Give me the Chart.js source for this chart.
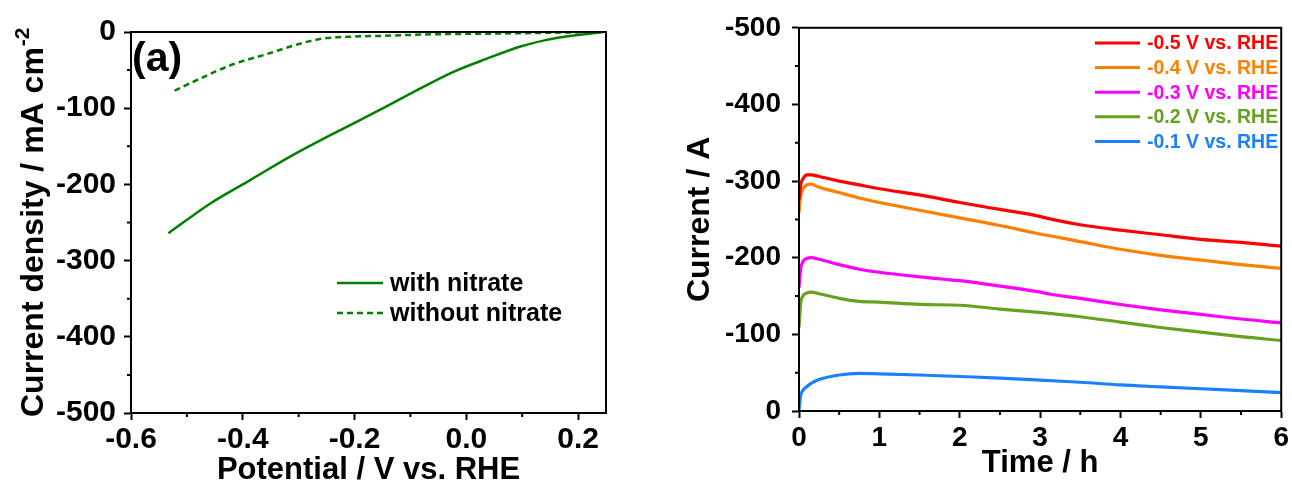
<!DOCTYPE html>
<html>
<head>
<meta charset="utf-8">
<script src="https://cdn.jsdelivr.net/npm/chart.js@4.4.1/dist/chart.umd.min.js"></script>
<style>
  html, body { margin: 0; padding: 0; background: #fff; }
  #wrap { position: relative; width: 1292px; height: 489px; overflow: hidden; }
  #ca { position: absolute; left: 0; top: 0; }
  #cb { position: absolute; left: 640px; top: 0; }
</style>
</head>
<body>
<div id="wrap">
  <canvas id="ca" width="640" height="489"></canvas>
  <canvas id="cb" width="652" height="489"></canvas>
</div>
<script>
// ---------- (a) linear sweep voltammetry ----------
const potentialWith    = [-0.533, -0.458, -0.386, -0.309, -0.237, -0.154, -0.082, -0.022, 0.037, 0.097, 0.140, 0.169, 0.200, 0.234, 0.245];
const currentWith      = [-264,   -225,   -194,   -161,   -133,   -102,   -74,    -52,    -35,   -19,   -11,   -7,    -4,    -1,    0];
const potentialWithout = [-0.522, -0.476, -0.416, -0.357, -0.310, -0.280, -0.250, -0.200, -0.148, -0.058, 0.061, 0.150, 0.245];
const currentWithout   = [-77,    -61,    -42,    -29,    -18,    -12,    -8,     -6,     -5,     -3,     -2,    -1,    0];
const seriesLabelsA    = ['with nitrate', 'without nitrate'];
const potentialTicks   = [-0.6, -0.4, -0.2, 0.0, 0.2];
const potentialMinor   = [-0.5, -0.3, -0.1, 0.1];
const densityTicks     = [0, -100, -200, -300, -400, -500];
const densityMinor     = [-50, -150, -250, -350, -450];

// ---------- (b) chronoamperometry ----------
const timeH   = [0, 0.02, 0.05, 0.1, 0.15, 0.25, 0.5, 0.75, 1, 1.5, 2, 2.5, 2.95, 3.15, 3.5, 4, 4.5, 5, 5.5, 6];
const iM05    = [-276, -295, -303, -308, -308, -306, -300, -295, -290, -282, -272, -263, -255, -250, -243, -236, -230, -224, -220, -215];
const iM04    = [-259, -280, -290, -295, -296, -292, -285, -278, -272, -262, -252, -242, -232, -228, -221, -211, -203, -197, -191, -186];
const iM03    = [-161, -185, -195, -199, -200, -198, -191, -185, -181, -175, -170, -163, -156, -152, -147, -139, -132, -126, -120, -115];
const iM02    = [-109, -140, -150, -154, -155, -153, -147, -143, -142, -139, -138, -133, -129, -127, -123, -116, -109, -103, -97,  -92];
const iM01    = [0,    -20,  -27,  -32,  -36,  -41,  -47,  -49,  -48.5, -47, -45, -43, -40.5, -39.5, -37.5, -34, -31.5, -29, -26.5, -24];
const seriesLabelsB = ['-0.5 V vs. RHE', '-0.4 V vs. RHE', '-0.3 V vs. RHE', '-0.2 V vs. RHE', '-0.1 V vs. RHE'];
const seriesColorsB = ['#ff0000', '#ff8000', '#ff00ff', '#66a122', '#1a80ff'];
const timeTicks    = [0, 1, 2, 3, 4, 5, 6];
const timeMinor    = [0.5, 1.5, 2.5, 3.5, 4.5, 5.5];
const currentTicks = [0, -100, -200, -300, -400, -500];
const currentMinor = [-50, -150, -250, -350, -450];

const FONT = "'Liberation Sans', Arial, Helvetica, sans-serif";
const toXY = (xs, ys) => xs.map((x, i) => ({ x: x, y: ys[i] }));

// full box around the plotting area
const frame = {
  id: 'frame',
  afterDatasetsDraw(chart) {
    const { ctx, chartArea: a } = chart;
    ctx.save();
    ctx.strokeStyle = '#000';
    ctx.lineWidth = 2;
    ctx.strokeRect(a.left, a.top, a.right - a.left, a.bottom - a.top);
    ctx.restore();
  }
};

// short outward minor ticks
function minorTicks(xVals, yVals) {
  return {
    id: 'minorTicks',
    afterDraw(chart) {
      const { ctx, chartArea: a, scales } = chart;
      ctx.save();
      ctx.strokeStyle = '#000';
      ctx.lineWidth = 2;
      ctx.beginPath();
      xVals.forEach(v => {
        const px = scales.x.getPixelForValue(v);
        ctx.moveTo(px, a.bottom); ctx.lineTo(px, a.bottom + 4);
      });
      yVals.forEach(v => {
        const py = scales.y.getPixelForValue(v);
        ctx.moveTo(a.left, py); ctx.lineTo(a.left - 4, py);
      });
      ctx.stroke();
      ctx.restore();
    }
  };
}

function panelLabel(text, x, y) {
  return {
    id: 'panelLabel',
    afterDraw(chart) {
      const ctx = chart.ctx;
      ctx.save();
      ctx.fillStyle = '#000';
      ctx.font = 'bold 41px ' + FONT;
      ctx.textBaseline = 'alphabetic';
      ctx.textAlign = 'left';
      ctx.fillText(text, x, y);
      ctx.restore();
    }
  };
}

// legend for (a): solid / dashed samples with black text
const legendA = {
  id: 'legendA',
  afterDraw(chart) {
    const ctx = chart.ctx;
    const rows = [283, 313];
    ctx.save();
    chart.data.datasets.forEach((ds, i) => {
      ctx.strokeStyle = ds.borderColor;
      ctx.lineWidth = ds.borderWidth;
      ctx.setLineDash(ds.borderDash || []);
      ctx.beginPath();
      ctx.moveTo(337, rows[i]); ctx.lineTo(383, rows[i]);
      ctx.stroke();
      ctx.setLineDash([]);
      ctx.fillStyle = '#000';
      ctx.font = 'bold 25px ' + FONT;
      ctx.textBaseline = 'middle';
      ctx.fillText(ds.label, 390, rows[i] + 1);
    });
    ctx.restore();
  }
};

// y title for (a) with superscript
const yTitleA = {
  id: 'yTitleA',
  afterDraw(chart) {
    const ctx = chart.ctx;
    ctx.save();
    ctx.translate(43, 417);
    ctx.rotate(-Math.PI / 2);
    ctx.fillStyle = '#000';
    ctx.textBaseline = 'alphabetic';
    ctx.textAlign = 'left';
    ctx.font = 'bold 32px ' + FONT;
    const main = 'Current density / mA cm';
    ctx.fillText(main, 0, 0);
    const w = ctx.measureText(main).width;
    ctx.font = 'bold 21px ' + FONT;
    ctx.fillText('-2', w + 1, -14);
    ctx.restore();
  }
};

// legend for (b): coloured samples with coloured text
const legendB = {
  id: 'legendB',
  afterDraw(chart) {
    const ctx = chart.ctx;
    const x0 = 1095 - 640, x1 = 1140 - 640, tx = 1147 - 640;
    ctx.save();
    chart.data.datasets.forEach((ds, i) => {
      const y = 43 + i * 24.6;
      ctx.strokeStyle = ds.borderColor;
      ctx.lineWidth = 3;
      ctx.beginPath();
      ctx.moveTo(x0, y); ctx.lineTo(x1, y);
      ctx.stroke();
      ctx.fillStyle = ds.borderColor;
      ctx.font = 'bold 19.5px ' + FONT;
      ctx.textBaseline = 'middle';
      ctx.textAlign = 'left';
      ctx.fillText(ds.label, tx, y + 1);
    });
    ctx.restore();
  }
};

function axisCommon(tickVals, fmt, pad, size) {
  return {
    afterBuildTicks: s => { s.ticks = tickVals.map(v => ({ value: v })); },
    grid: { drawOnChartArea: false, drawTicks: true, tickLength: 7, tickWidth: 2, tickColor: '#000' },
    border: { display: true, color: '#000', width: 2 },
    ticks: {
      padding: pad, color: '#000', autoSkip: false, maxRotation: 0,
      font: { family: FONT, size: size, weight: 'bold' },
      callback: fmt
    }
  };
}

// ---------- chart (a) ----------
new Chart(document.getElementById('ca'), {
  type: 'line',
  data: {
    datasets: [
      { label: seriesLabelsA[0], data: toXY(potentialWith, currentWith), borderColor: '#008000', borderWidth: 2.5,
        pointRadius: 0, fill: false, cubicInterpolationMode: 'monotone' },
      { label: seriesLabelsA[1], data: toXY(potentialWithout, currentWithout), borderColor: '#008000', borderWidth: 2.5,
        borderDash: [6, 4], pointRadius: 0, fill: false, cubicInterpolationMode: 'monotone' }
    ]
  },
  options: {
    responsive: false, animation: false, devicePixelRatio: 1,
    layout: { padding: { left: 0, top: 32, right: 34, bottom: 0 } },
    plugins: { legend: { display: false }, tooltip: { enabled: false } },
    scales: {
      x: Object.assign(axisCommon(potentialTicks, v => Number(v).toFixed(1), 2, 30), {
        type: 'linear', min: -0.6, max: 0.25,
        afterFit: s => { s.height = 76; },
        title: { display: true, text: 'Potential / V vs. RHE', color: '#000',
                 font: { family: FONT, size: 31, weight: 'bold' }, padding: { top: 0, bottom: 0 } }
      }),
      y: Object.assign(axisCommon(densityTicks, v => String(v), 8, 30), {
        type: 'linear', min: -500, max: 0,
        afterFit: s => { s.width = 131; }
      })
    }
  },
  plugins: [frame, minorTicks(potentialMinor, densityMinor), legendA, yTitleA, panelLabel('(a)', 132, 71)]
});

// ---------- chart (b) ----------
const seriesB = [iM05, iM04, iM03, iM02, iM01];
new Chart(document.getElementById('cb'), {
  type: 'line',
  data: {
    datasets: seriesB.map((vals, i) => ({
      label: seriesLabelsB[i], data: toXY(timeH, vals), borderColor: seriesColorsB[i], borderWidth: 3.2,
      pointRadius: 0, fill: false, cubicInterpolationMode: 'monotone'
    }))
  },
  options: {
    responsive: false, animation: false, devicePixelRatio: 1,
    layout: { padding: { left: 0, top: 26, right: 9.5, bottom: 0 } },
    plugins: { legend: { display: false }, tooltip: { enabled: false } },
    scales: {
      x: Object.assign(axisCommon(timeTicks, v => String(v), 3, 28), {
        type: 'linear', min: 0, max: 6,
        afterFit: s => { s.height = 78; },
        title: { display: true, text: 'Time / h', color: '#000',
                 font: { family: FONT, size: 31, weight: 'bold' }, padding: { top: 0, bottom: 7 } }
      }),
      y: Object.assign(axisCommon(currentTicks, v => String(v), 11, 28), {
        type: 'linear', min: -500, max: 0, reverse: true,
        afterFit: s => { s.width = 159; },
        title: { display: true, text: 'Current / A', color: '#000',
                 font: { family: FONT, size: 32, weight: 'bold' }, padding: { top: 41, bottom: 0 } }
      })
    }
  },
  plugins: [frame, minorTicks(timeMinor, currentMinor), legendB, panelLabel('(b)', 806, 67)]
});
</script>
</body>
</html>
